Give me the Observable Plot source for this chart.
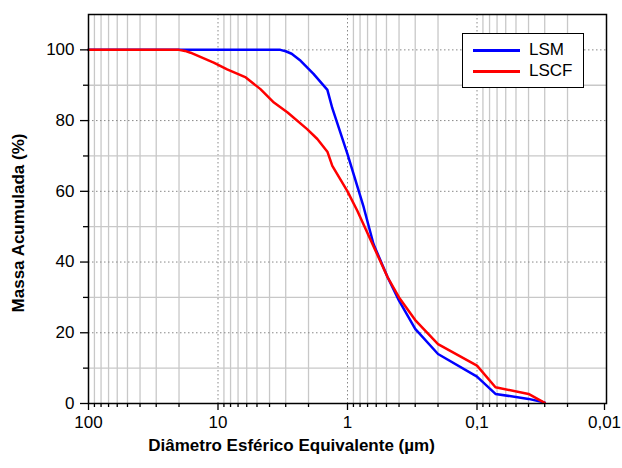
<!DOCTYPE html>
<html><head><meta charset="utf-8">
<script src="https://cdn.jsdelivr.net/npm/d3@7"></script>
<script src="https://cdn.jsdelivr.net/npm/@observablehq/plot@0.6"></script>
<style>
body{margin:0;background:#fff;font-family:Arial,"Liberation Sans",sans-serif;}
#wrap{position:relative;width:622px;height:468px;}
#legend{position:absolute;left:462px;top:33px;width:122px;height:55px;border:1.3px solid #000;background:#fff;box-sizing:border-box;font-size:17px;}
.row{position:absolute;left:10px;display:flex;align-items:center;line-height:20px;}
.sw{width:47px;height:3px;margin-right:9px;}
</style></head>
<body><div id="wrap"><div id="legend">
<div class="row" style="top:6px"><div class="sw" style="background:#0000ff"></div>LSM</div>
<div class="row" style="top:27px"><div class="sw" style="background:#ff0000"></div>LSCF</div>
</div></div>
<script>
const lsmD = [100, 50, 10, 5, 3.3, 3.0, 2.7, 2.3, 1.83, 1.43, 1.31, 1.0, 0.75, 0.63, 0.49, 0.40, 0.30, 0.20, 0.10, 0.072, 0.04, 0.03];
const lsmV = [100, 100, 100, 100, 100, 99.6, 98.9, 96.9, 93.2, 88.7, 83.5, 70.5, 55.5, 45.1, 35.7, 29.1, 21.1, 14.0, 7.6, 2.7, 1.3, 0.3];
const lscfD = [100, 50, 20, 18, 16.3, 10.8, 8.5, 6.1, 4.7, 3.7, 2.9, 2.05, 1.71, 1.43, 1.31, 1.0, 0.84, 0.49, 0.40, 0.30, 0.20, 0.10, 0.072, 0.04, 0.03];
const lscfV = [100, 100, 100, 99.7, 99.2, 96.4, 94.5, 92.2, 88.9, 85.1, 82.3, 77.6, 74.8, 71.2, 67.2, 60.0, 54.5, 35.7, 30.0, 23.6, 16.8, 10.7, 4.6, 2.7, 0.2];
const xMajor = [100, 10, 1, 0.1, 0.01];
const xMinorMult = [2, 3, 4, 5, 6, 7, 8, 9];
const yMajor = [0, 20, 40, 60, 80, 100];
const yMinor = [10, 30, 50, 70, 90];

const xMinor = [];
for (const m of xMajor.slice(1)) for (const k of xMinorMult) xMinor.push(m * k);
const xInner = xMajor.slice(1, -1);
const lsm = lsmD.map((d, i) => ({d, v: lsmV[i]}));
const lscf = lscfD.map((d, i) => ({d, v: lscfV[i]}));
const fmt = d => String(d).replace(".", ",");
const none = () => "";

const chart = Plot.plot({
  width: 622, height: 468,
  marginLeft: 88, marginRight: 16, marginTop: 14, marginBottom: 65,
  style: {fontSize: "17px", fontFamily: "Arial, 'Liberation Sans', sans-serif", color: "#000", background: "#fff"},
  x: {type: "log", domain: [100, 0.01]},
  y: {domain: [0, 110]},
  marks: [
    Plot.ruleX(xMinor, {stroke: "#c8c8c8", strokeWidth: 1.3}),
    Plot.ruleX(xInner, {stroke: "#888", strokeWidth: 1, strokeDasharray: "1.5,2.5"}),
    Plot.ruleY(yMinor, {stroke: "#c8c8c8", strokeWidth: 1.3}),
    Plot.ruleY(yMajor.slice(1), {stroke: "#888", strokeWidth: 1, strokeDasharray: "1.5,2.5"}),
    Plot.line(lsm, {x: "d", y: "v", stroke: "#0000ff", strokeWidth: 2.5}),
    Plot.line(lscf, {x: "d", y: "v", stroke: "#ff0000", strokeWidth: 2.5}),
    Plot.axisX(xMinor, {tickSize: 4, tickFormat: none, label: null, stroke: "#000", strokeWidth: 1.3}),
    Plot.axisX(xMajor.slice(0, -1), {tickSize: 7, tickPadding: 5, tickFormat: fmt, label: null, stroke: "#000", strokeWidth: 1.3}),
    Plot.axisX(xMajor.slice(-1), {tickSize: 7, tickPadding: 5, tickFormat: fmt, label: null, stroke: "#000", strokeWidth: 1.3, dx: -2}),
    Plot.axisY(yMinor, {tickSize: 5, tickFormat: none, label: null, stroke: "#000", strokeWidth: 1.3}),
    Plot.axisY(yMajor, {tickSize: 8, tickPadding: 6, label: null, stroke: "#000", strokeWidth: 1.3}),
    Plot.frame({stroke: "#000", strokeWidth: 1.5}),
    Plot.text(["Massa Acumulada (%)"], {frameAnchor: "left", dx: -70, dy: 14, rotate: -90, textAnchor: "middle", lineAnchor: "middle", fontWeight: "bold", fontSize: 17}),
    Plot.text(["Diâmetro Esférico Equivalente (µm)"], {frameAnchor: "bottom", dx: -56, dy: 42, textAnchor: "middle", lineAnchor: "middle", fontWeight: "bold", fontSize: 17})
  ]
});
document.getElementById("wrap").prepend(chart);
chart.style.position = "absolute"; chart.style.left = "0"; chart.style.top = "0";
</script></body></html>
